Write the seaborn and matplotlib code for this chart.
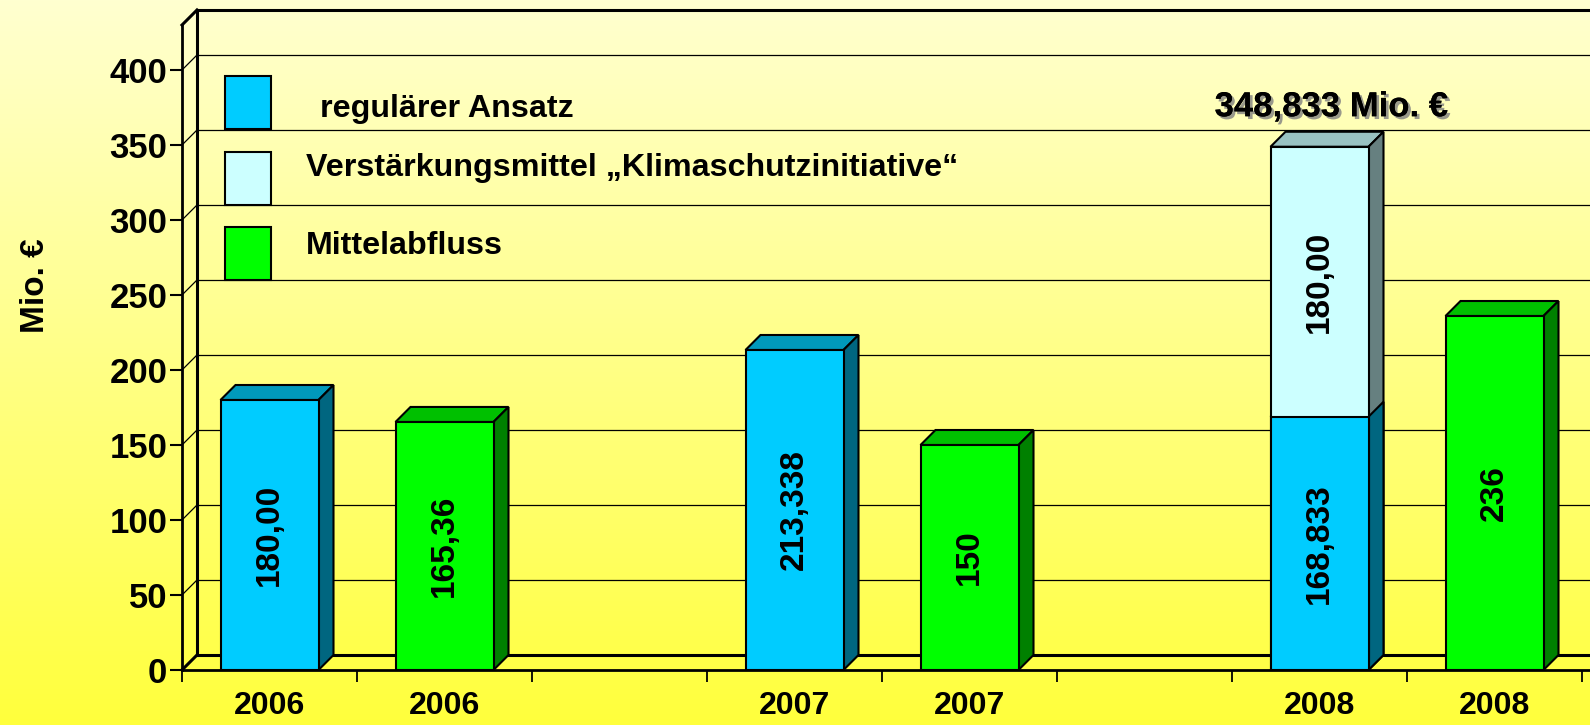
import matplotlib
matplotlib.use("Agg")
import matplotlib.pyplot as plt
import matplotlib.patheffects as pe
from matplotlib.patches import Polygon, Rectangle
from matplotlib.lines import Line2D
from matplotlib.transforms import IdentityTransform
import numpy as np
import pandas as pd
import seaborn as sns

# Daten
jahre = ["2006", "2007", "2008"]
ansatz = [180.00, 213.338, 168.833]
verstaerkung = [0, 0, 180.00]
abfluss = [165.36, 150, 236]
ansatz_text = ["180,00", "213,338", "168,833"]
verstaerkung_text = ["", "", "180,00"]
abfluss_text = ["165,36", "150", "236"]
gesamt_text = "348,833 Mio. €"
legende = ["regulärer Ansatz", "Verstärkungsmittel „Klimaschutzinitiative“", "Mittelabfluss"]
y_ticks = [0, 50, 100, 150, 200, 250, 300, 350, 400]
y_max = 430

plt.rcParams["font.family"] = ["Liberation Sans", "DejaVu Sans"]
plt.rcParams["font.weight"] = "bold"

# Farben: Vorderseite, Deckel, Seite
blau = ("#00CCFF", "#0099BB", "#006680")
hell = ("#CCFFFF", "#99C2C2", "#668080")
gruen = ("#00FF00", "#00C000", "#008000")

# Slots: Ansatz, Abfluss, Luecke pro Jahr
order = []
for i, j in enumerate(jahre):
    order += ["A" + j, "M" + j, "L" + str(i)]

df_a = pd.DataFrame({"slot": ["A" + j for j in jahre], "wert": ansatz})
df_m = pd.DataFrame({"slot": ["M" + j for j in jahre], "wert": abfluss})
df_v = pd.DataFrame({"slot": ["A" + j for j, v in zip(jahre, verstaerkung) if v > 0],
                     "wert": [a + v for a, v in zip(ansatz, verstaerkung) if v > 0]})

W, H, DPI = 1590, 725, 100
fig = plt.figure(figsize=(W / DPI, H / DPI), dpi=DPI)

# Hintergrund-Verlauf
bg = fig.add_axes([0, 0, 1, 1], zorder=-5)
grad = np.linspace(0, 1, 256)[:, None]
top_c = np.array([255, 255, 208]) / 255
bot_c = np.array([255, 255, 60]) / 255
img = top_c[None, None, :] * (1 - grad[:, :, None]) + bot_c[None, None, :] * grad[:, :, None]
bg.imshow(img, aspect="auto", extent=[0, 1, 0, 1])
bg.axis("off")

x_left, y_base, y_top = 182, 670, 25
ax = fig.add_axes([x_left / W, (H - y_base) / H, (W - x_left) / W, (y_base - y_top) / H])
ax.set_facecolor("none")

n0 = len(ax.patches)
sns.barplot(data=df_v, x="slot", y="wert", order=order, color=hell[0], saturation=1,
            width=0.56, edgecolor="black", linewidth=1.5, ax=ax, zorder=3)
p_v = ax.patches[n0:]
n0 = len(ax.patches)
sns.barplot(data=df_a, x="slot", y="wert", order=order, color=blau[0], saturation=1,
            width=0.56, edgecolor="black", linewidth=1.5, ax=ax, zorder=3)
p_a = ax.patches[n0:]
n0 = len(ax.patches)
sns.barplot(data=df_m, x="slot", y="wert", order=order, color=gruen[0], saturation=1,
            width=0.56, edgecolor="black", linewidth=1.5, ax=ax, zorder=3)
p_m = ax.patches[n0:]

ax.set_xlim(-0.5, -0.5 + (W - x_left) / 175)
ax.set_ylim(0, y_max)
ax.set_xlabel("")
ax.set_ylabel("")

T = 15  # Tiefe in Pixel


def tiefe(patches, farben, z):
    for p in patches:
        h = p.get_height()
        if not np.isfinite(h) or h <= 0:
            continue
        x0, x1 = p.get_x(), p.get_x() + p.get_width()
        (dx0, dy0), (dx1, dy1) = ax.transData.transform([(x0, 0), (x1, h)])
        seite = Polygon([(dx1, dy0), (dx1 + T, dy0 + T), (dx1 + T, dy1 + T), (dx1, dy1)],
                        closed=True, facecolor=farben[2], edgecolor="black", lw=1.5,
                        transform=IdentityTransform(), zorder=z, clip_on=False)
        deckel = Polygon([(dx0, dy1), (dx0 + T, dy1 + T), (dx1 + T, dy1 + T), (dx1, dy1)],
                         closed=True, facecolor=farben[1], edgecolor="black", lw=1.5,
                         transform=IdentityTransform(), zorder=z - 0.2, clip_on=False)
        ax.add_artist(seite)
        ax.add_artist(deckel)


tiefe(p_v, hell, 2.8)
tiefe(p_a, blau, 2.9)
tiefe(p_m, gruen, 2.9)

# Rueckwand
ex0, ey0 = ax.transData.transform((-0.5, 0))
for v in y_ticks + [y_max]:
    ey = ax.transData.transform((0, v))[1]
    dick = v in (0, y_max)
    lw = 2.2 if dick else 0.9
    ax.add_artist(Line2D([ex0 + T, W + 20], [ey + T, ey + T], color="black", lw=lw,
                         transform=IdentityTransform(), zorder=1, clip_on=False))
    ax.add_artist(Line2D([ex0, ex0 + T], [ey, ey + T], color="black", lw=lw,
                         transform=IdentityTransform(), zorder=1, clip_on=False))
eyt = ax.transData.transform((0, y_max))[1]
ax.add_artist(Line2D([ex0 + T, ex0 + T], [ey0 + T, eyt + T], color="black", lw=2.2,
                     transform=IdentityTransform(), zorder=1, clip_on=False))

# Achsen
for s in ["top", "right"]:
    ax.spines[s].set_visible(False)
ax.spines["left"].set_linewidth(2)
ax.spines["bottom"].set_linewidth(2)
ax.set_yticks(y_ticks)
ax.tick_params(axis="y", length=8.6, width=1.5, pad=2, labelsize=25, color="black")
pos = [3 * i + k for i in range(len(jahre)) for k in (0, 1)]
ax.set_xticks(pos, [j for j in jahre for _ in (0, 1)])
ax.tick_params(axis="x", which="major", length=0, pad=15, labelsize=23)
ax.set_xticks(np.arange(-0.5, 8.0, 1.0), minor=True)
ax.tick_params(axis="x", which="minor", length=8.6, width=1.3, color="black")
for t in ax.get_xticklabels() + ax.get_yticklabels():
    t.set_fontweight("bold")

# Werte in den Balken
for p, txt in zip([p for p in p_a if p.get_height() > 0], ansatz_text):
    ax.text(p.get_x() + p.get_width() / 2, p.get_height() / 2, txt, rotation=90,
            ha="center", va="center", fontsize=24, fontweight="bold", zorder=5)
for p, txt in zip([p for p in p_m if p.get_height() > 0], abfluss_text):
    ax.text(p.get_x() + p.get_width() / 2, p.get_height() / 2, txt, rotation=90,
            ha="center", va="center", fontsize=24, fontweight="bold", zorder=5)
for i, j in enumerate(jahre):
    if verstaerkung[i] > 0:
        k = order.index("A" + j)
        ax.text(k, ansatz[i] + verstaerkung[i] / 2, verstaerkung_text[i], rotation=90,
                ha="center", va="center", fontsize=24, fontweight="bold", zorder=5)
        ax.annotate(gesamt_text, xy=(k, ansatz[i] + verstaerkung[i]), xytext=(12, 40),
                    textcoords="offset pixels", ha="center", va="center", fontsize=25,
                    fontweight="bold", zorder=6, annotation_clip=False,
                    path_effects=[pe.withSimplePatchShadow(offset=(2, -2), shadow_rgbFace="#808080",
                                                           alpha=0.8), pe.Normal()])

# Legende
for (y0, y1), farbe, txt, tx, ty in zip([(76, 129), (152, 205), (227, 280)],
                                        [blau[0], hell[0], gruen[0]], legende,
                                        [320, 306, 306], [109.5, 168, 246]):
    fig.add_artist(Rectangle((225 / W, 1 - y1 / H), 46 / W, (y1 - y0) / H, transform=fig.transFigure,
                             facecolor=farbe, edgecolor="black", lw=1.5, zorder=10))
    fig.text(tx / W, 1 - ty / H, txt, ha="left", va="center", fontsize=23.2,
             fontweight="bold", zorder=10)

fig.text(36 / W, 1 - 286 / H, "Mio. €", rotation=90, ha="center", va="center",
         fontsize=24, fontweight="bold")

fig.savefig("out.png", dpi=DPI)
